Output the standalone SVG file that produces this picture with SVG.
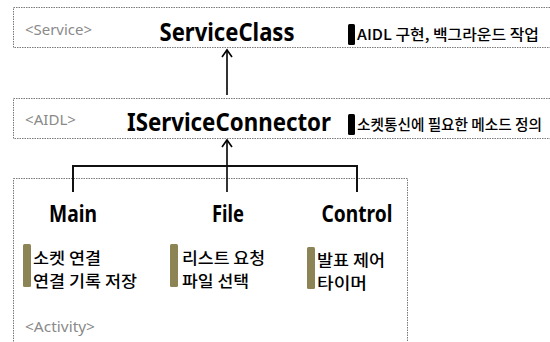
<svg xmlns="http://www.w3.org/2000/svg" width="550" height="342" viewBox="0 0 550 342">
<defs>
<style>
.box{fill:#fff;stroke:#7a7a7a;stroke-width:1;stroke-dasharray:1.5,1}
.tag{font-family:"Noto Sans","Noto Sans CJK KR",sans-serif;font-size:14px;fill:#8a8a8a}
.title{font-family:"Noto Sans","Noto Sans CJK KR",sans-serif;font-size:25px;font-weight:bold;fill:#000}
.sub{font-family:"Noto Sans","Noto Sans CJK KR",sans-serif;font-size:24px;font-weight:bold;fill:#000}
.note{font-family:"Noto Sans CJK KR",sans-serif;font-size:15px;font-weight:500;fill:#000}
.item{font-family:"Noto Sans CJK KR",sans-serif;font-size:16px;font-weight:500;fill:#000}
.bar{fill:#000}
.obar{fill:#8c8455}
.conn{stroke:#111;stroke-width:2;fill:none}
.arr{stroke:#000;stroke-width:1.6;fill:none}
</style>
<marker id="ah" markerWidth="12" markerHeight="12" refX="10" refY="6" orient="auto" markerUnits="userSpaceOnUse" viewBox="0 0 12 12">
<path d="M3,1 L10,6 L3,11" stroke="#000" stroke-width="1.6" fill="none"/>
</marker>
</defs>
<rect width="550" height="342" fill="#fff"/>
<g id="service">
<rect class="box" x="13.5" y="7.5" width="560" height="40"/>
<text class="tag" x="25" y="35" textLength="67" lengthAdjust="spacingAndGlyphs">&lt;Service&gt;</text>
<text class="title" x="227" y="41" text-anchor="middle" textLength="135" lengthAdjust="spacingAndGlyphs">ServiceClass</text>
<rect class="bar" x="348" y="24" width="7" height="21" rx="1.5"/>
<text class="note" x="357" y="40" textLength="182" lengthAdjust="spacingAndGlyphs">AIDL 구현, 백그라운드 작업</text>
</g>
<g id="aidl">
<rect class="box" x="13.5" y="98.5" width="560" height="40"/>
<text class="tag" x="25" y="125" textLength="51" lengthAdjust="spacingAndGlyphs">&lt;AIDL&gt;</text>
<text class="title" x="229" y="131" text-anchor="middle" textLength="204" lengthAdjust="spacingAndGlyphs">IServiceConnector</text>
<rect class="bar" x="348" y="114" width="7" height="21" rx="1.5"/>
<text class="note" x="357" y="130" textLength="185" lengthAdjust="spacingAndGlyphs">소켓통신에 필요한 메소드 정의</text>
</g>
<g id="activity">
<rect class="box" x="13.5" y="178.5" width="394" height="180"/>
<text class="tag" x="25" y="332" textLength="70" lengthAdjust="spacingAndGlyphs">&lt;Activity&gt;</text>
</g>
<g id="main">
<text class="sub" x="73" y="222" text-anchor="middle" textLength="48" lengthAdjust="spacingAndGlyphs">Main</text>
<rect class="obar" x="23" y="244" width="8" height="43" rx="1.5"/>
<text class="item" x="33" y="264" textLength="68" lengthAdjust="spacingAndGlyphs">소켓 연결</text>
<text class="item" x="33" y="287" textLength="104" lengthAdjust="spacingAndGlyphs">연결 기록 저장</text>
</g>
<g id="file">
<text class="sub" x="228" y="222" text-anchor="middle" textLength="32" lengthAdjust="spacingAndGlyphs">File</text>
<rect class="obar" x="170" y="244" width="8" height="43" rx="1.5"/>
<text class="item" x="182" y="264" textLength="83" lengthAdjust="spacingAndGlyphs">리스트 요청</text>
<text class="item" x="182" y="287" textLength="67" lengthAdjust="spacingAndGlyphs">파일 선택</text>
</g>
<g id="control">
<text class="sub" x="357" y="222" text-anchor="middle" textLength="71" lengthAdjust="spacingAndGlyphs">Control</text>
<rect class="obar" x="307" y="247" width="8" height="42" rx="1.5"/>
<text class="item" x="317" y="266" textLength="68" lengthAdjust="spacingAndGlyphs">발표 제어</text>
<text class="item" x="317" y="289" textLength="50" lengthAdjust="spacingAndGlyphs">타이머</text>
</g>
<g id="connectors">
<line class="arr" x1="227" y1="95" x2="227" y2="50" marker-end="url(#ah)"/>
<line class="arr" x1="227" y1="192" x2="227" y2="140" marker-end="url(#ah)"/>
<polyline class="conn" points="73,192 73,166 357,166 357,192"/>
</g>
</svg>
